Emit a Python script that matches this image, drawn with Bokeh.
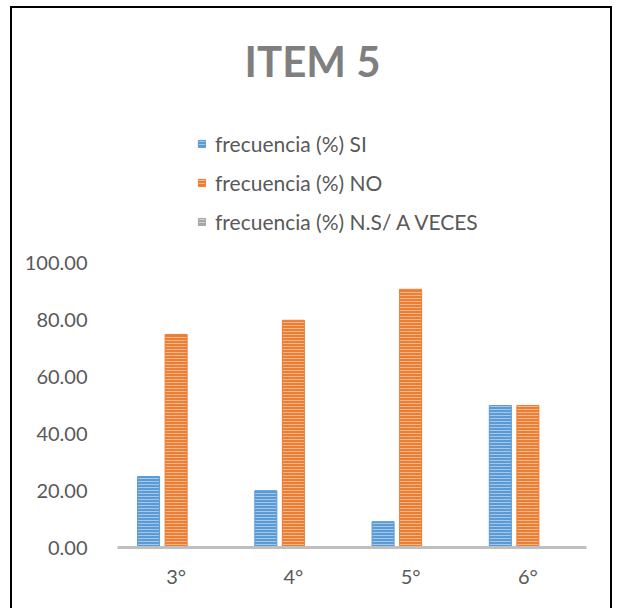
from bokeh.plotting import figure
from bokeh.models import ColumnDataSource, FactorRange, FixedTicker, NumeralTickFormatter, Legend, LegendItem, Range1d
from bokeh.transform import dodge
from bokeh.embed import file_html
from bokeh.resources import INLINE

grades = ["3°", "4°", "5°", "6°"]
si = [25.0, 20.0, 9.09, 50.0]
no = [75.0, 80.0, 90.91, 50.0]
ns = [0.0, 0.0, 0.0, 0.0]
series_names = ["frecuencia (%) SI", "frecuencia (%) NO", "frecuencia (%) N.S/ A VECES"]
y_ticks = [0, 20, 40, 60, 80, 100]

src = ColumnDataSource(dict(g=grades, si=si, no=no, ns=ns))

# frame extends above 100 to hold the legend (no visible y axis line)
p = figure(x_range=FactorRange(*grades), y_range=Range1d(0, 153.87), width=602, height=604,
           output_backend="svg", toolbar_location=None,
           min_border_left=105, min_border_right=28, min_border_bottom=65, min_border_top=102)
p.styles = {"border": "2px solid black", "margin-left": "10px", "margin-top": "6px"}
p.outline_line_color = None
p.xgrid.grid_line_color = None
p.ygrid.grid_line_color = None

p.title.text = "ITEM 5"
p.title.text_font = "Lato"
p.title.text_font_size = "42px"
p.title.text_font_style = "bold"
p.title.text_color = "#7F7F7F"
p.title.align = "left"
p.title.offset = 127
p.title.standoff = 50

colors = ["#5B9BD5", "#ED7D31", "#A5A5A5"]
renderers = []
for col, off, c in zip(["si", "no", "ns"], [-0.235, 0.0, 0.235], colors):
    r = p.vbar(x=dodge("g", off, range=p.x_range), top=col, width=0.188, source=src,
               fill_color=c, line_color=c, line_width=1,
               hatch_pattern="horizontal_line", hatch_color="white", hatch_alpha=0.45,
               hatch_scale=3, hatch_weight=1)
    renderers.append(r)

legend = Legend(items=[LegendItem(label=n, renderers=[r]) for n, r in zip(series_names, renderers)],
                orientation="vertical", location=(80, 313),
                label_text_font="Lato", label_text_font_size="21px", label_text_color="#595959",
                glyph_width=9, glyph_height=9, label_height=24, spacing=14,
                label_standoff=9, border_line_color=None, background_fill_alpha=0,
                padding=0, margin=0)
p.add_layout(legend, "center")

p.yaxis.ticker = FixedTicker(ticks=y_ticks)
p.yaxis.formatter = NumeralTickFormatter(format="0.00")
p.yaxis.axis_line_color = None
p.yaxis.major_tick_line_color = None
p.yaxis.minor_tick_line_color = None
p.yaxis.major_label_text_font = "Lato"
p.yaxis.major_label_text_font_size = "20px"
p.yaxis.major_label_text_color = "#595959"
p.yaxis.major_label_standoff = 24

p.xaxis.axis_line_color = "#BFBFBF"
p.xaxis.axis_line_width = 3
p.xaxis.major_tick_line_color = None
p.xaxis.minor_tick_line_color = None
p.xaxis.major_label_text_font = "Lato"
p.xaxis.major_label_text_font_size = "20px"
p.xaxis.major_label_text_color = "#595959"
p.xaxis.major_label_standoff = 10

open("out.html", "w").write(file_html(p, INLINE))
